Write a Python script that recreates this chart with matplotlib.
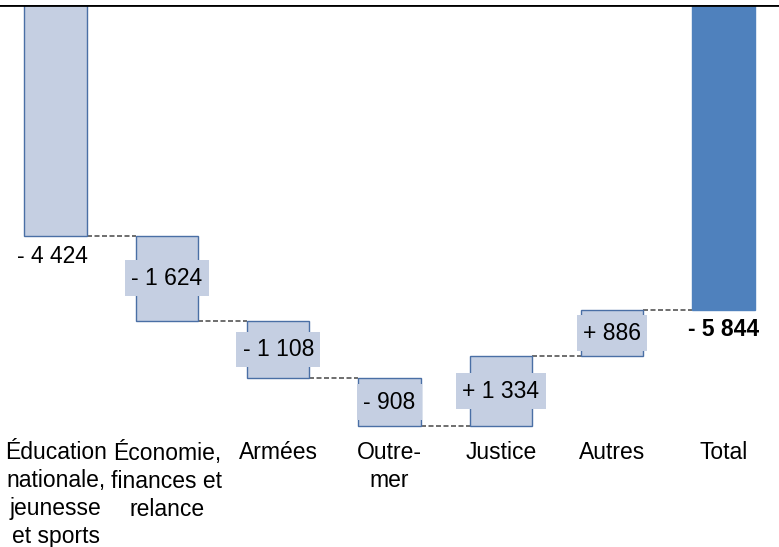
import numpy as np
import matplotlib.pyplot as plt

plt.rcParams['font.family'] = ['Liberation Sans', 'DejaVu Sans']

# data
categories = ["Éducation\nnationale,\njeunesse\net sports",
              "Économie,\nfinances et\nrelance",
              "Armées", "Outre-\nmer", "Justice", "Autres", "Total"]
changes = [-4424, -1624, -1108, -908, 1334, 886]
total = -5844

light = "#C5CFE2"
edge = "#4A6FA5"
dark = "#4F81BD"


#Function to write a value like "- 1 624" or "+ 886"
def fmt(v):
    sign = "- " if v < 0 else "+ "
    s = f"{abs(v):,}".replace(",", " ")
    return sign + s


fig = plt.figure(figsize=(7.79, 5.47), dpi=100)
ax = fig.add_axes([0, 112 / 547, 1, 430 / 547])

ends = np.cumsum(changes)
starts = ends - np.array(changes)
x = np.arange(len(categories))
w = 0.56

# step bars
for i, (s, e) in enumerate(zip(starts, ends)):
    ax.bar(x[i], e - s, bottom=s, width=w, color=light, edgecolor=edge, linewidth=1, zorder=2)

# total bar
ax.bar(x[-1], total, width=w, color=dark, edgecolor=dark, linewidth=1, zorder=2)

# dashed connectors
levels = list(ends)
for i in range(len(levels)):
    ax.plot([x[i] + w / 2, x[i + 1] - w / 2], [levels[i], levels[i]],
            color="#555555", linestyle=(0, (3, 1.5)), linewidth=1.2, zorder=1)

# labels
ax.annotate(fmt(changes[0]), (x[0], ends[0]), xytext=(-3, -21), textcoords="offset pixels",
            ha="center", va="center", fontsize=16.5)
for i in range(1, len(changes)):
    mid = (starts[i] + ends[i]) / 2
    ax.text(x[i], mid, fmt(changes[i]), ha="center", va="center", fontsize=16.5, zorder=3,
            bbox=dict(boxstyle="square,pad=0.28", facecolor=light, edgecolor="none"))
ax.annotate(fmt(total), (x[-1], total), xytext=(0, -20), textcoords="offset pixels",
            ha="center", va="center", fontsize=16.5, fontweight="bold")

ax.axhline(0, color="black", linewidth=2, zorder=4)

ax.set_xlim(-0.5, 6.5)
ax.set_ylim(-8240, 0)
ax.set_xticks(x)
ax.set_xticklabels(categories, fontsize=16.5, linespacing=1.28)
ax.tick_params(axis="x", length=0, pad=4)
ax.set_yticks([])
for sp in ax.spines.values():
    sp.set_visible(False)

fig.savefig("out.png", dpi=100)
